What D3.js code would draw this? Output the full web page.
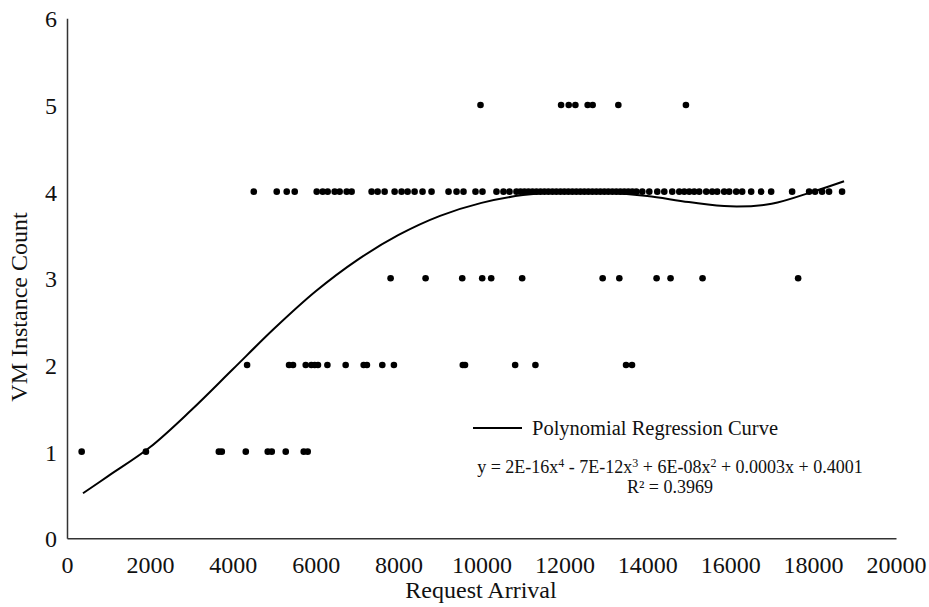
<!DOCTYPE html>
<html>
<head>
<meta charset="utf-8">
<script src="https://cdn.jsdelivr.net/npm/d3@7"></script>
<style>
html,body{margin:0;padding:0;background:#fff;}
svg{display:block;}
svg text{font-family:"Liberation Serif","Times New Roman",serif !important;fill:#111;}
</style>
</head>
<body>
<svg id="chart" width="929" height="607"></svg>
<script>
// ---- data ----
const xTicks = [0,2000,4000,6000,8000,10000,12000,14000,16000,18000,20000];
const yTicks = [0,1,2,3,4,5,6];

const row1X = [354,1904,3663,3735,4313,4843,4940,5277,5711,5807];
const row2X = [4345,5357,5453,5759,5896,5976,6055,6282,6723,7157,7236,7607,7887,9549,9602,10812,11301,13487,13631];
const row3X = [7807,8651,9535,10017,10234,10981,12923,13325,14224,14561,15333,17639];
const row4X = [4506,5060,5301,5494,6024,6169,6289,6458,6578,6747,6867,7349,7494,7663,7904,8072,8217,8386,8578,8795,
  9205,9398,9566,9855,10024,10361,10530,10675,10843,10940,11036,11132,11229,11325,11422,11518,11614,11711,11807,11904,
  12000,12096,12193,12289,12385,12482,12578,12675,12771,12867,12964,13060,13157,13253,13349,13446,13542,13638,13735,
  13879,14048,14241,14410,14602,14771,14892,15012,15132,15253,15422,15566,15687,15855,15976,16145,16289,16506,16747,
  16988,17494,17904,18048,18217,18385,18699];
const row5X = [9976,11920,12104,12265,12561,12682,13301,14932];

// regression curve
const curveX = [386,1000,2000,3000,4000,5000,6000,7000,8000,9000,10000,11000,12000,13000,14000,15000,16000,17000,18000,18747];
const curveY = [0.52,0.72,1.05,1.48,1.95,2.42,2.85,3.21,3.50,3.72,3.87,3.96,4.00,3.99,3.95,3.88,3.83,3.86,4.00,4.12];

const legendLabel = "Polynomial Regression Curve";
const r2Label = "R² = 0.3969";

// ---- drawing ----
const svg = d3.select("#chart");
const x = d3.scaleLinear().domain([0,20000]).range([67,896]);
const y = d3.scaleLinear().domain([0,6]).range([538.3,18.3]);

const points = [];
[[row1X,1],[row2X,2],[row3X,3],[row4X,4],[row5X,5]].forEach(([xs,v])=>xs.forEach(d=>points.push({x:d,y:v})));

const SERIF = "Liberation Serif, Times New Roman, serif";

// axes
const xAxis = svg.append("g").attr("transform",`translate(0,${y(0)})`)
  .call(d3.axisBottom(x).tickValues(xTicks).tickSize(0).tickSizeOuter(0).tickFormat(d3.format("d")));
xAxis.attr("font-family",SERIF).attr("font-size",24);
xAxis.select(".domain").attr("stroke","#333").attr("stroke-width",1.5);
xAxis.selectAll("text").attr("y",35).attr("dy",0).attr("fill","#111");

const yAxis = svg.append("g").attr("transform",`translate(${x(0)},0)`)
  .call(d3.axisLeft(y).tickValues(yTicks).tickSize(0).tickSizeOuter(0).tickFormat(d3.format("d")));
yAxis.attr("font-family",SERIF).attr("font-size",24);
yAxis.select(".domain").attr("stroke","#333").attr("stroke-width",1.5);
yAxis.selectAll("text").attr("x",-10).attr("dy","0.35em").attr("fill","#111");

// axis titles
svg.append("text").attr("x",481).attr("y",598).attr("text-anchor","middle")
  .attr("font-size",24).text("Request Arrival");
svg.append("text").attr("transform","translate(27,307) rotate(-90)").attr("text-anchor","middle")
  .attr("font-size",24).text("VM Instance Count");

// points
svg.append("g").selectAll("circle").data(points).join("circle")
  .attr("cx",d=>x(d.x)).attr("cy",d=>y(d.y)).attr("r",3.3).attr("fill","#000");

// curve
const line = d3.line().x(d=>x(d[0])).y(d=>y(d[1])).curve(d3.curveCatmullRom.alpha(0.5));
svg.append("path").datum(curveX.map((d,i)=>[d,curveY[i]]))
  .attr("d",line).attr("fill","none").attr("stroke","#000").attr("stroke-width",2);

// legend
svg.append("line").attr("x1",473).attr("x2",522).attr("y1",428).attr("y2",428)
  .attr("stroke","#000").attr("stroke-width",2);
svg.append("text").attr("x",532).attr("y",435).attr("font-size",20.5).text(legendLabel);

// equation
const eq = svg.append("text").attr("x",670).attr("y",473).attr("text-anchor","middle").attr("font-size",18);
const parts = [["y = 2E-16x",0],["4",1],[" - 7E-12x",0],["3",1],[" + 6E-08x",0],["2",1],[" + 0.0003x + 0.4001",0]];
parts.forEach(([t,sup],i)=>{
  const ts = eq.append("tspan").text(t);
  if(sup){ ts.attr("dy",-6).attr("font-size",12); }
  else if(i>0){ ts.attr("dy",6); }
});
svg.append("text").attr("x",670).attr("y",493).attr("text-anchor","middle").attr("font-size",18).text(r2Label);
</script>
</body>
</html>
